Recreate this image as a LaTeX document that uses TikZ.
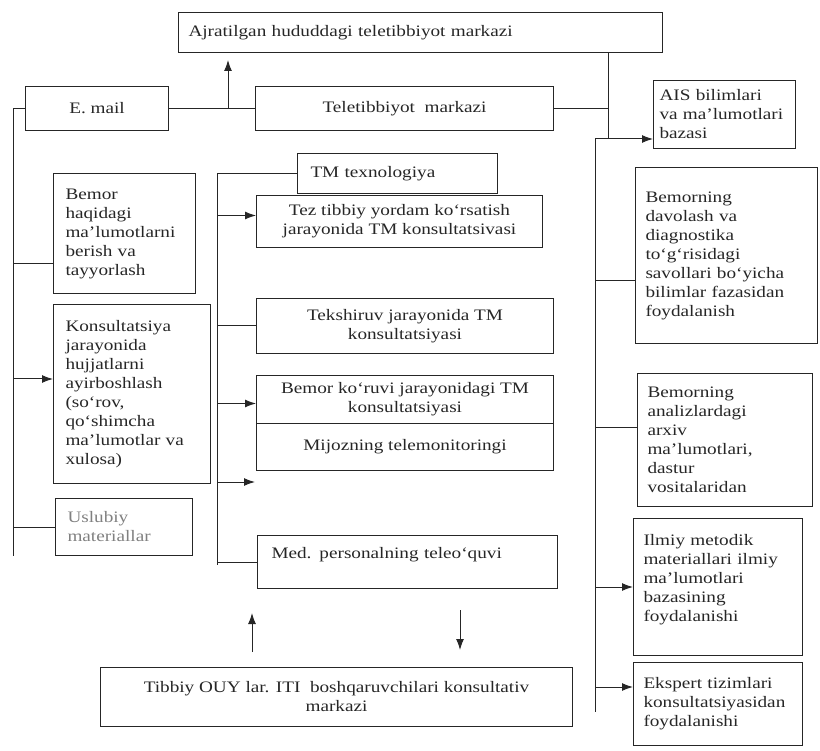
\documentclass[tikz,border=0pt]{standalone}
\usepackage{fontspec}
\setmainfont{Liberation Serif}[FakeStretch=1.2]
\usetikzlibrary{arrows.meta}

\tikzset{
  box/.style={draw, line width=1pt, inner sep=6pt, anchor=north west,
    font=\fontsize{16}{19}\selectfont},
  lbox/.style={box, align=left},
  cbox/.style={box, align=center},
}

\begin{document}
\begin{tikzpicture}[x=1pt, y=-1pt, color=black!85, line width=1pt,
    >={Latex[length=11pt,width=8pt]}]
      \useasboundingbox (0,0) rectangle (820,751);

      % Top row
      \node[lbox, text width=464, inner xsep=10pt, minimum height=40] (ajr) at (178,12) {Ajratilgan hududdagi teletibbiyot markazi};
      \node[cbox, minimum width=143, minimum height=44] (email) at (25,86) {E. mail};
      \node[cbox, minimum width=298, minimum height=44] (tele) at (255,86) {Teletibbiyot\ \ markazi};

      % Left column
      \node[lbox, text width=118, inner xsep=12pt, minimum height=120] (bemor) at (53,173) {Bemor\\haqidagi\\ma’lumotlarni\\berish va\\tayyorlash};
      \node[lbox, text width=133, inner xsep=12pt, minimum height=179] (hujjat) at (53,304) {Konsultatsiya\\jarayonida\\hujjatlarni\\ayirboshlash\\(so‘rov,\\qo‘shimcha\\ma’lumotlar va\\xulosa)};
      \node[lbox, text width=113, inner xsep=12pt, minimum height=57, text=gray] (uslub) at (55,498) {Uslubiy\\materiallar};

      % Middle column
      \node[lbox, text width=174, inner xsep=13pt, minimum height=40] (tmtex) at (297,153) {TM texnologiya};
      \node[cbox, minimum width=286, minimum height=52] (tez) at (256,195) {Tez tibbiy yordam ko‘rsatish\\jarayonida TM konsultatsivasi};
      \node[cbox, minimum width=297, minimum height=55] (tekshir) at (256,298) {Tekshiruv jarayonida TM\\konsultatsiyasi};
      \node[cbox, minimum width=297, minimum height=48] (koruv) at (256,375) {Bemor ko‘ruvi jarayonidagi TM\\konsultatsiyasi};
      \node[cbox, minimum width=297, minimum height=47] (mijoz) at (256,423) {Mijozning telemonitoringi};
      \node[lbox, text width=272, inner xsep=14pt, minimum height=53] (med) at (257,535) {Med. personalning teleo‘quvi\\ \mbox{}};
      \node[cbox, minimum width=472, minimum height=59] (konsmark) at (100,667) {Tibbiy OUY lar. ITI\ \ boshqaruvchilari konsultativ\\markazi};

      % Right column
      \node[lbox, text width=130, minimum height=68] (ais) at (653,80) {AIS bilimlari\\va ma’lumotlari\\bazasi};
      \node[lbox, text width=162, inner xsep=10pt, minimum height=176] (davol) at (635,167) {Bemorning\\davolash va\\diagnostika\\to‘g‘risidagi\\savollari bo‘yicha\\bilimlar fazasidan\\foydalanish};
      \node[lbox, text width=155, inner xsep=10pt, minimum height=133] (arxiv) at (637,373) {Bemorning\\analizlardagi\\arxiv\\ma’lumotlari,\\dastur\\vositalaridan};
      \node[lbox, text width=149, inner xsep=10pt, minimum height=137] (ilmiy) at (633,518) {Ilmiy metodik\\materiallari ilmiy\\ma’lumotlari\\bazasining\\foydalanishi\\ \mbox{}};
      \node[lbox, text width=149, inner xsep=10pt, minimum height=83] (ekspert) at (633,662) {Ekspert tizimlari\\konsultatsiyasidan\\foydalanishi};

      % Top links
      \coordinate (uptop) at (228,60);
      \draw (email.east) -- (tele.west);
      \draw[->] (uptop |- email.east) -- (uptop);

      % Left bus
      \coordinate (lbot) at (13,556);
      \draw (email.west) -| (lbot);
      \draw ([yshift=-30pt]bemor.west) -- ++(-40,0);
      \draw[<-] ([yshift=15pt]hujjat.west) -- ++(-40,0);
      \draw (uslub.west) -- ++(-42,0);

      % Middle bus
      \coordinate (mbot) at (217,565);
      \coordinate (mfree) at (255,482);
      \draw (tmtex.west) -| (mbot);
      \draw[<-] ([yshift=6pt]tez.west) -- ++(-39,0);
      \draw (tekshir.west) -- ++(-39,0);
      \draw[<-] ([yshift=-4pt]koruv.west) -- ++(-39,0);
      \draw[->] (mfree -| mbot) -- (mfree);
      \draw (med.west) -- ++(-40,0);

      % Right bus
      \coordinate (rj) at (608,139);
      \coordinate (rtop) at (595,139);
      \coordinate (rbot) at (595,712);
      \draw (tele.east) -| (rj);
      \draw (rj) -- (rj |- ajr.south);
      \draw (rtop) -- (rbot);
      \draw[->] (rtop) -- (rtop -| ais.west);
      \draw ([yshift=-25pt]davol.west) -- ++(-40,0);
      \draw ([yshift=12pt]arxiv.west) -- ++(-42,0);
      \draw[<-] (ilmiy.west) -- ++(-38,0);
      \draw[<-] ([yshift=17pt]ekspert.west) -- ++(-38,0);

      % Arrows above the bottom box
      \coordinate (ua) at (252,652);
      \coordinate (ub) at (252,613);
      \coordinate (da) at (460,610);
      \coordinate (db) at (460,650);
      \draw[->] (ua) -- (ub);
      \draw[->] (da) -- (db);
    \end{tikzpicture}
\end{document}
